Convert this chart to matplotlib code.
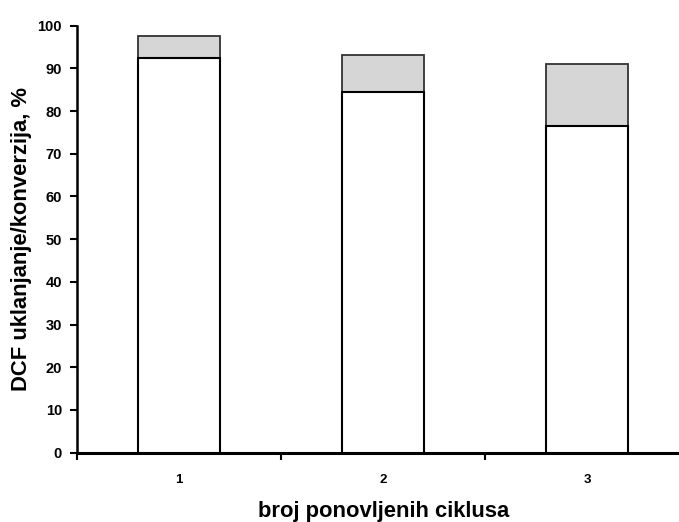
import matplotlib
matplotlib.use('Agg')
import matplotlib.pyplot as plt
import numpy as np

plt.rcParams['font.family'] = ['Liberation Sans', 'DejaVu Sans']
plt.rcParams['font.weight'] = 'bold'

# ciklusi i vrijednosti (%)
ciklusi = ['1', '2', '3']
konverzija = [92.5, 84.4, 76.4]      # donji, bijeli dio
uklanjanje = [97.7, 93.2, 91.0]      # ukupna visina stupca
razlika = [u - k for u, k in zip(uklanjanje, konverzija)]

x = np.arange(1, len(ciklusi) + 1)

fig = plt.figure(figsize=(6.79, 5.22), dpi=100)
ax = fig.add_axes([0.1138, 0.1328, 0.9013, 0.818])

ax.bar(x, konverzija, width=0.4, color='white', edgecolor='black', linewidth=1.5, zorder=3)
ax.bar(x, razlika, width=0.4, bottom=konverzija, color='#d6d6d6', edgecolor='#333333',
       linewidth=1.3, zorder=2)

ax.set_xlim(0.5, 3.5)
ax.set_ylim(0, 100)
ax.set_yticks(range(0, 101, 10))
ax.tick_params(axis='y', direction='out', length=5, width=1.5, labelsize=10.5, pad=6)

# crtice na granicama kategorija, oznake u sredini
ax.set_xticks([0.5, 1.5, 2.5, 3.5])
ax.set_xticklabels([])
ax.set_xticks(x, minor=True)
ax.set_xticklabels(ciklusi, minor=True)
ax.tick_params(axis='x', which='major', direction='out', length=5, width=1.5)
ax.tick_params(axis='x', which='minor', length=0, labelsize=9.5, pad=15)

for s in ['top', 'right']:
    ax.spines[s].set_visible(False)
ax.spines['left'].set_linewidth(1.8)
ax.spines['bottom'].set_linewidth(2.2)

ax.set_xlabel('broj ponovljenih ciklusa', fontsize=15.8, fontweight='bold', labelpad=11)
ax.set_ylabel('DCF uklanjanje/konverzija, %', fontsize=15.8, fontweight='bold', labelpad=4)

fig.savefig('out.png', dpi=100)
